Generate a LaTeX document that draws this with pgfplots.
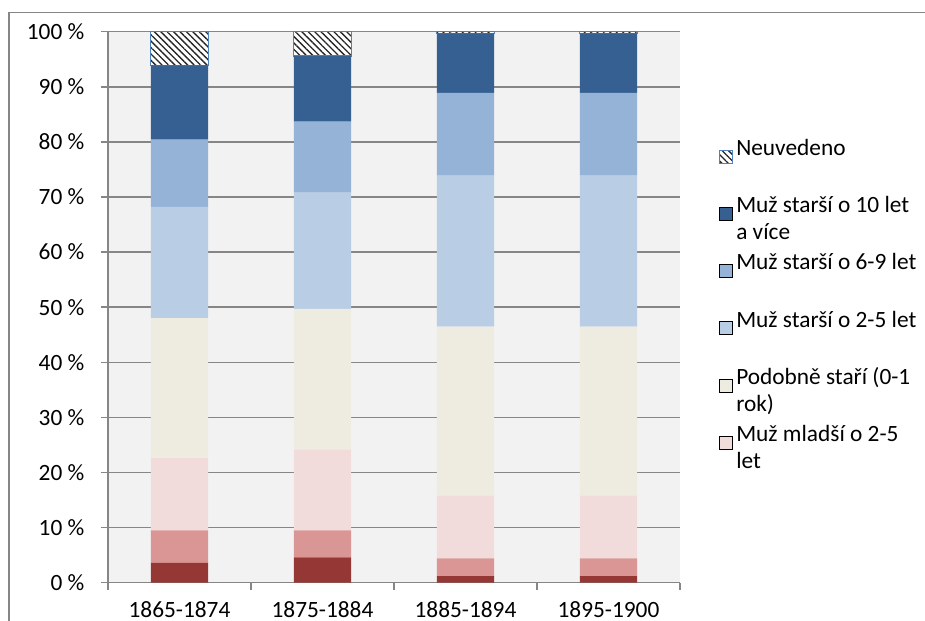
\documentclass[border=0pt]{standalone}
\usepackage{pgfplots}
\pgfplotsset{compat=1.18}
\usepackage{fontspec}
\setmainfont{Carlito}
\usetikzlibrary{patterns.meta}
\definecolor{c1}{HTML}{953735}
\definecolor{c2}{HTML}{D99694}
\definecolor{c3}{HTML}{F2DCDB}
\definecolor{c4}{HTML}{EEECE1}
\definecolor{c5}{HTML}{B9CDE5}
\definecolor{c6}{HTML}{95B3D7}
\definecolor{c7}{HTML}{376092}
\definecolor{hb}{HTML}{4F81BD}
\definecolor{gridc}{HTML}{868686}
\definecolor{bgc}{HTML}{F2F2F2}
\newcommand\twoline[2]{\rlap{\smash{\raisebox{-20.25pt}{#2}}}#1}
\begin{document}
\begin{tikzpicture}
\path[use as bounding box] (0,0) rectangle (693.75pt,465.75pt);
\draw[gridc, line width=1.1pt] (6.75pt,0) -- (6.75pt,456.4pt) -- (693.75pt,456.4pt);
\begin{axis}[
  at={(81pt,28.7pt)}, anchor=south west,
  width=429pt, height=413.25pt, scale only axis,
  ybar stacked, bar width=0.402,
  xmin=-0.5, xmax=3.5, ymin=0, ymax=100,
  xtick={0,1,2,3},
  xticklabels={1865-1874,1875-1884,1885-1894,1895-1900},
  minor xtick={-0.5,0.5,1.5,2.5,3.5},
  ytick={0,10,20,30,40,50,60,70,80,90,100},
  yticklabels={0 \%,10 \%,20 \%,30 \%,40 \%,50 \%,60 \%,70 \%,80 \%,90 \%,100 \%},
  axis x line*=bottom, axis y line*=left,
  axis line style={gridc, line width=1.1pt, -},
  ymajorgrids, grid style={gridc, line width=1.1pt},
  major tick length=5.25pt, minor tick length=5.25pt,
  tick align=outside,
  major x tick style={draw=none},
  tick style={gridc, line width=1.1pt},
  axis background/.style={fill=bgc},
  ticklabel style={font=\fontsize{17.5}{20.25}\selectfont, black},
  xticklabel style={anchor=base, inner sep=0pt, yshift=-20.5pt},
  yticklabel style={xshift=-9pt},
  reverse legend,
  legend cell align=left,
  legend style={draw=none, fill=none, at={(1.068,0.806)}, anchor=north west,
    font=\fontsize{17.5}{20.25}\selectfont, inner sep=0pt, row sep=0pt,
    nodes={inner ysep=0pt, inner xsep=2.5pt, text height=12.5pt, text depth=30.4pt}},
  every axis plot post/.append style={legend image code/.code={
    \draw[#1, line width=0.6pt] (0pt,3.2pt) rectangle (9.75pt,12.9pt);}},
]
\addplot[fill=c1, draw=none, forget plot] coordinates {(0,3.6) (1,4.6) (2,1.2) (3,1.2)};
\addplot[fill=c2, draw=none, forget plot] coordinates {(0,5.9) (1,4.9) (2,3.2) (3,3.2)};
\addplot[fill=c3, draw=none] coordinates {(0,13.1) (1,14.6) (2,11.4) (3,11.4)};
\addlegendentry{\twoline{Muž mladší o 2-5}{let}}
\addplot[fill=c4, draw=none] coordinates {(0,25.4) (1,25.6) (2,30.7) (3,30.7)};
\addlegendentry{\twoline{Podobně staří (0-1}{rok)}}
\addplot[fill=c5, draw=none] coordinates {(0,20.2) (1,21.1) (2,27.4) (3,27.4)};
\addlegendentry{Muž starší o 2-5 let}
\addplot[fill=c6, draw=none] coordinates {(0,12.2) (1,12.9) (2,15.0) (3,15.0)};
\addlegendentry{Muž starší o 6-9 let}
\addplot[fill=c7, draw=none] coordinates {(0,13.5) (1,11.9) (2,10.8) (3,10.8)};
\addlegendentry{\twoline{Muž starší o 10 let}{a více}}
\addplot[fill=white, draw=hb, line width=1.1pt,
  postaction={pattern={Lines[angle=-45,distance=3.4pt,line width=1pt]}, pattern color=black!85}]
  coordinates {(0,6.1) (1,4.4) (2,0.3) (3,0.3)};
\addlegendentry{Neuvedeno}
\end{axis}
\end{tikzpicture}
\end{document}
